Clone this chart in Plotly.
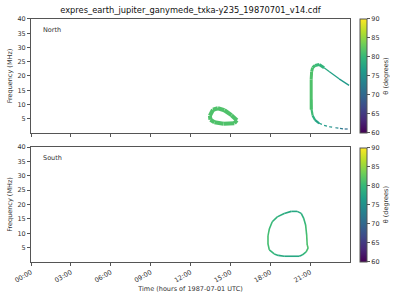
import plotly.graph_objects as go
from plotly.colors import sample_colorscale

# ---------------- data ----------------
title_text = "expres_earth_jupiter_ganymede_txka-y235_19870701_v14.cdf"
tick_hours = [0, 3, 6, 9, 12, 15, 18, 21]
tick_labels = ["00:00", "03:00", "06:00", "09:00", "12:00", "15:00", "18:00", "21:00"]
freq_ticks = [5, 10, 15, 20, 25, 30, 35, 40]
theta_ticks = [60, 65, 70, 75, 80, 85, 90]

# North hemisphere: small oval around 14-15 h
north_oval_t = [13.46, 13.69, 14.06, 14.55, 15.08, 15.49, 15.30, 14.48, 13.80, 13.50, 13.46]
north_oval_f = [6.06, 8.16, 8.68, 7.98, 6.23, 4.48, 3.43, 3.26, 3.78, 4.66, 6.06]
north_oval_th = [81.5, 81.5, 81.5, 81.5, 81.5, 81.5, 81.5, 81.5, 81.5, 81.5, 81.5]

# North hemisphere: main arc after 21 h (vertical edge + top)
north_arc_t = [21.08, 21.08, 21.11, 21.19, 21.38, 21.68, 22.05]
north_arc_f = [8.2, 18.7, 21.5, 22.9, 23.7, 24.0, 22.9]
north_arc_th = [81.5, 81.5, 81.5, 81.0, 80.5, 80.0, 79.0]

# North: descending high-frequency tail
north_tail_t = [22.05, 22.43, 23.18, 23.93]
north_tail_f = [22.9, 21.6, 19.0, 16.7]
north_tail_th = [79.0, 77.5, 76.5, 76.0]

# North: lower branch
north_low_t = [21.08, 21.11, 21.19, 21.38, 21.68]
north_low_f = [11.7, 8.2, 6.1, 4.5, 3.4]
north_low_th = [81.5, 81.0, 80.0, 78.0, 77.0]

# North: faint low-frequency tail (dashed)
north_lowtail_t = [21.68, 22.05, 22.43, 22.90, 23.25, 23.60, 23.93]
north_lowtail_f = [3.4, 2.7, 2.2, 1.85, 1.6, 1.4, 1.4]
north_lowtail_th = [77.0, 76.5, 76.0, 75.0, 73.0, 71.0, 70.0]

# South hemisphere: loop between 18 h and 21 h
south_loop_t = [19.05, 18.60, 18.30, 17.93, 17.83, 17.83, 17.93, 18.15, 18.53, 19.05, 19.58,
                20.03, 20.33, 20.51, 20.66, 20.74, 20.78, 20.85, 20.70, 20.40, 20.18, 19.05]
south_loop_f = [2.0, 2.3, 2.8, 4.2, 6.3, 9.1, 11.5, 14.0, 15.7, 16.9, 17.6,
                17.6, 16.9, 15.3, 12.9, 9.4, 5.9, 4.9, 3.5, 2.4, 2.0, 2.0]
south_loop_th = [78.0, 78.5, 79.5, 80.5, 81.0, 81.0, 80.5, 80.0, 79.0, 78.5, 78.0,
                 78.0, 78.5, 79.5, 80.5, 81.0, 81.5, 81.5, 80.5, 79.0, 78.0, 78.0]

TH_MIN, TH_MAX = 60, 90


def col(th):
    return sample_colorscale("Viridis", [(th - TH_MIN) / (TH_MAX - TH_MIN)])[0]


fig = go.Figure()


def add_curve(t, f, th, width, xa, ya, dash="solid"):
    for i in range(len(t) - 1):
        fig.add_trace(go.Scatter(
            x=[t[i], t[i + 1]], y=[f[i], f[i + 1]], mode="lines",
            line=dict(color=col((th[i] + th[i + 1]) / 2), width=width, dash=dash),
            xaxis=xa, yaxis=ya, showlegend=False, hoverinfo="skip"))


add_curve(north_oval_t, north_oval_f, north_oval_th, 4, "x", "y")
add_curve(north_arc_t, north_arc_f, north_arc_th, 3, "x", "y")
add_curve(north_tail_t, north_tail_f, north_tail_th, 1.3, "x", "y")
add_curve(north_low_t, north_low_f, north_low_th, 2.2, "x", "y")
add_curve(north_lowtail_t, north_lowtail_f, north_lowtail_th, 1.2, "x", "y", dash="3px,4px")
add_curve(south_loop_t, south_loop_f, south_loop_th, 1.6, "x2", "y2")

TICKF = dict(family="DejaVu Sans", size=6.5, color="#333")


def cbar(ycen):
    return dict(x=0.9, xanchor="left", y=ycen, yanchor="middle", len=0.38, lenmode="fraction",
                thickness=7, outlinecolor="#555", outlinewidth=1,
                tickvals=theta_ticks, ticks="outside", ticklen=3, tickcolor="#555",
                tickfont=TICKF, xpad=0, ypad=0,
                title=dict(text="θ (degrees)", side="right", font=TICKF))


# colour bars (invisible carrier traces)
fig.add_trace(go.Scatter(x=[None], y=[None], mode="markers", xaxis="x", yaxis="y",
                         marker=dict(color=[75], cmin=TH_MIN, cmax=TH_MAX, colorscale="Viridis",
                                     showscale=True, colorbar=cbar(0.7467)),
                         showlegend=False, hoverinfo="skip"))
fig.add_trace(go.Scatter(x=[None], y=[None], mode="markers", xaxis="x2", yaxis="y2",
                         marker=dict(color=[75], cmin=TH_MIN, cmax=TH_MAX, colorscale="Viridis",
                                     showscale=True, colorbar=cbar(0.318)),
                         showlegend=False, hoverinfo="skip"))

xcommon = dict(range=[0, 24], tickvals=tick_hours, ticks="outside", ticklen=3, tickcolor="#555",
               showline=True, linecolor="#555", linewidth=1, mirror=True, showgrid=False,
               zeroline=False, tickfont=TICKF, domain=[0.0775, 0.875], automargin=False)
ycommon = dict(range=[0, 40], tickvals=freq_ticks, ticks="outside", ticklen=3, tickcolor="#555",
               showline=True, linecolor="#555", linewidth=1, mirror=True, showgrid=False,
               zeroline=False, tickfont=TICKF, automargin=False,
               title=dict(text="Frequency (MHz)", font=TICKF, standoff=4))

fig.update_layout(
    width=400, height=300, margin=dict(l=0, r=0, t=0, b=0, autoexpand=False),
    paper_bgcolor="white", plot_bgcolor="white",
    xaxis=dict(**xcommon, anchor="y", showticklabels=False),
    yaxis=dict(**ycommon, domain=[0.5567, 0.9367], anchor="x"),
    xaxis2=dict(**xcommon, anchor="y2", ticktext=tick_labels, tickangle=-30,
                title=dict(text="Time (hours of 1987-07-01 UTC)", font=TICKF, standoff=2)),
    yaxis2=dict(**ycommon, domain=[0.1267, 0.51], anchor="x2"),
    title=dict(text=title_text, x=0.476, xanchor="center", y=0.965, yanchor="middle",
               font=dict(family="DejaVu Sans", size=8.3, color="#111")),
    annotations=[
        dict(text="North", x=0.03, y=0.955, xref="x domain", yref="y domain", showarrow=False,
             xanchor="left", yanchor="top", font=TICKF),
        dict(text="South", x=0.03, y=0.955, xref="x2 domain", yref="y2 domain", showarrow=False,
             xanchor="left", yanchor="top", font=TICKF),
    ],
)

fig.write_html("out.html")
